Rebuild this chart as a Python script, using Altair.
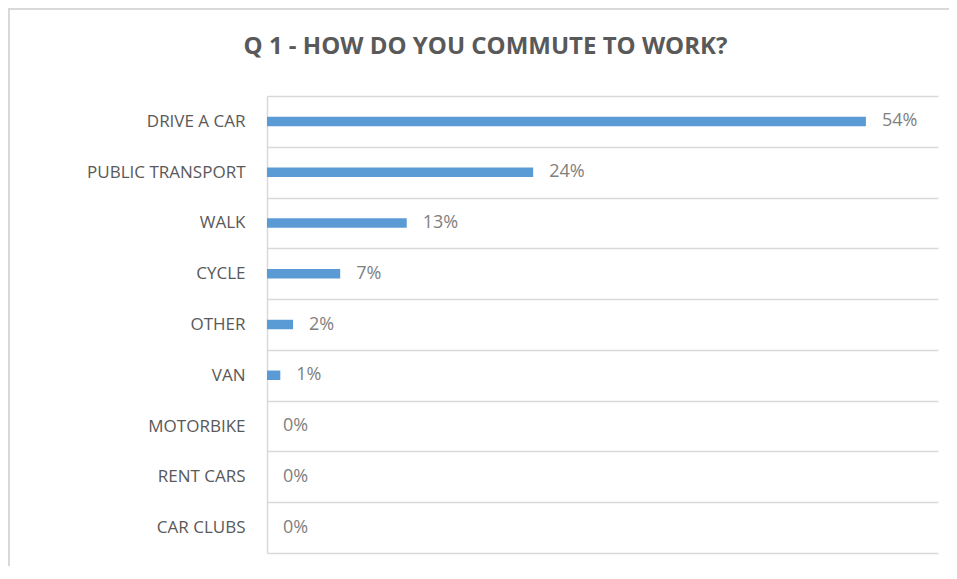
import altair as alt
import pandas as pd

categories = ["DRIVE A CAR", "PUBLIC TRANSPORT", "WALK", "CYCLE", "OTHER",
              "VAN", "MOTORBIKE", "RENT CARS", "CAR CLUBS"]
shares = [0.540, 0.240, 0.126, 0.066, 0.0235, 0.012, 0.0, 0.0, 0.0]

df = pd.DataFrame({"mode": categories, "share": shares})

FONT = "Open Sans"
GRID = "#D9D9D9"

y_enc = alt.Y(
    "mode:N",
    sort=categories,
    title=None,
    scale=alt.Scale(paddingInner=0, paddingOuter=0),
    axis=alt.Axis(
        grid=True,
        tickBand="extent",
        gridColor=GRID,
        gridWidth=1.5,
        domain=True,
        domainColor=GRID,
        domainWidth=1.5,
        ticks=False,
        labelPadding=22,
        labelFont=FONT,
        labelFontSize=17,
        labelColor="#595959",
    ),
)
x_enc = alt.X("share:Q", axis=None, scale=alt.Scale(domain=[0, 0.605]))

bars = alt.Chart(df).mark_bar(size=9.5, color="#5B9BD5").encode(x=x_enc, y=y_enc)

labels = alt.Chart(df).mark_text(
    align="left", baseline="middle", dx=16, font=FONT, fontSize=18, color="#7F7F7F"
).encode(x=x_enc, y=y_enc, text=alt.Text("share:Q", format=".0%"))

frame = alt.Chart(df).mark_rect(
    fill=None, stroke=GRID, strokeWidth=1.5
).encode(
    x=alt.value(-258), x2=alt.value(720), y=alt.value(-87), y2=alt.value(520)
)

chart = alt.layer(frame, bars, labels).properties(
    width=671,
    height=457,
    padding={"left": 259, "top": 88, "right": 11, "bottom": 13},
    autosize=alt.AutoSizeParams(type="none"),
    title=alt.TitleParams(
        "Q 1 - HOW DO YOU COMMUTE TO WORK?",
        font=FONT,
        fontSize=24,
        fontWeight="bold",
        color="#595959",
        anchor="middle",
        frame="group",
        dx=-117,
        baseline="alphabetic",
        offset=0,
        dy=70,
    ),
).configure_view(stroke=None)

chart.save("out.html", embed_options={"renderer": "svg", "actions": False})
